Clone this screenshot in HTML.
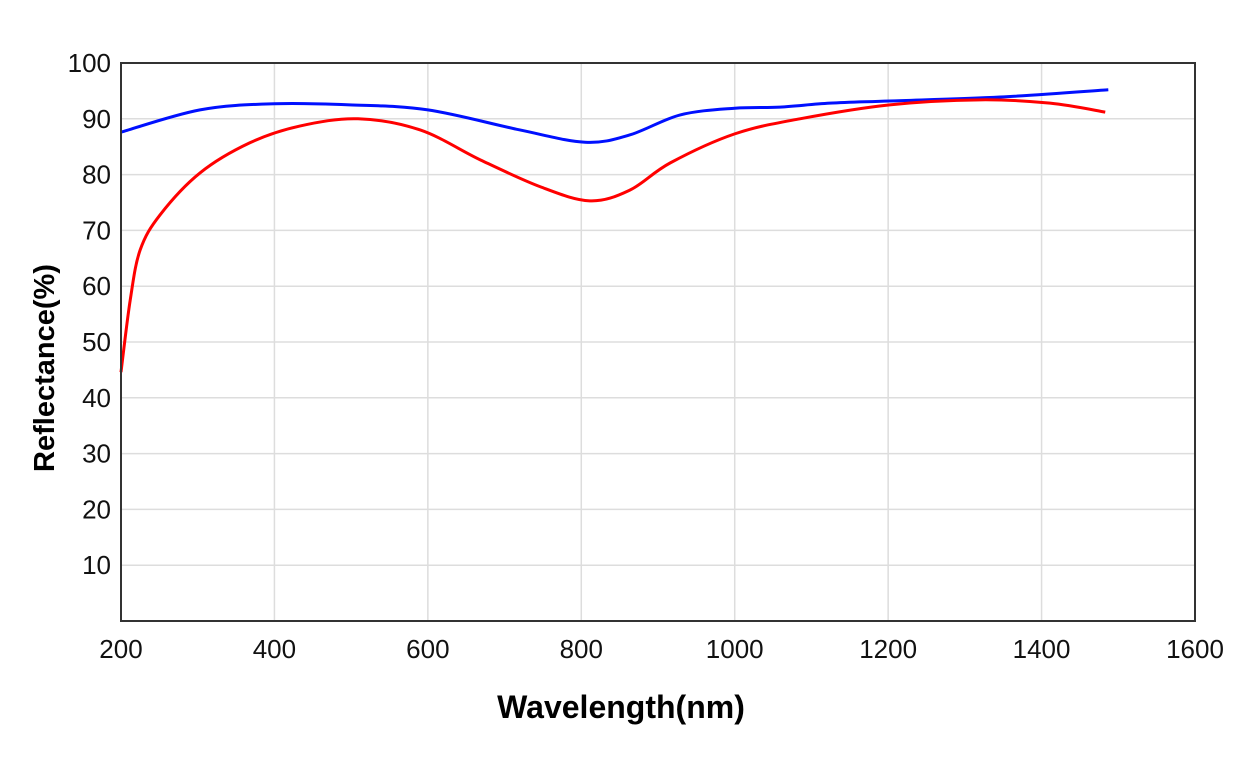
<!DOCTYPE html>
<html><head><meta charset="utf-8"><style>
body{margin:0;background:#fff;font-family:"Liberation Sans",sans-serif}
</style></head><body>
<svg id="chart" width="1253" height="756" xmlns="http://www.w3.org/2000/svg">
<g id="grid"></g>
<g id="ticks" font-family="Liberation Sans, sans-serif" font-size="26" fill="#111"></g>
<g id="series"></g>
<rect x="121" y="63" width="1074" height="558" fill="none" stroke="#333" stroke-width="2"/>
<text x="621" y="718" text-anchor="middle" font-size="32" font-weight="bold" font-family="Liberation Sans, sans-serif">Wavelength(nm)</text>
<text transform="translate(54,368) rotate(-90)" text-anchor="middle" font-size="29" font-weight="bold" font-family="Liberation Sans, sans-serif">Reflectance(%)</text>
</svg>
<script>
const xTicks=[200,400,600,800,1000,1200,1400,1600];
const yTicks=[10,20,30,40,50,60,70,80,90,100];
const blueX=[200,303,400,498,600,720,805,863,929,1000,1059,1124,1202,1346,1487];
const blueY=[87.6,91.6,92.7,92.5,91.6,88,85.8,87.1,90.7,91.9,92.1,92.8,93.2,93.9,95.2];
const redX=[200,212,225,251,303,368,433,509,590,669,747,811,863,916,1000,1085,1202,1320,1411,1483];
const redY=[44.6,57.5,66.5,72.8,80.3,85.7,88.7,90,88,82.6,77.8,75.3,77.2,82.1,87.3,90,92.5,93.4,92.8,91.2];
const NS="http://www.w3.org/2000/svg";
const L=121,R=1195,T=63,B=621;
const sx=v=>L+(v-200)/1400*(R-L);
const sy=v=>B-v/100*(B-T);
const grid=document.getElementById('grid'),ticks=document.getElementById('ticks'),series=document.getElementById('series');
xTicks.forEach(v=>{
 const l=document.createElementNS(NS,'line');
 
 
 l.setAttribute('x1',sx(v));l.setAttribute('x2',sx(v));l.setAttribute('y1',T);l.setAttribute('y2',B);
 l.setAttribute('stroke','#ddd');l.setAttribute('stroke-width','1.5');grid.appendChild(l);
 const t=document.createElementNS(NS,'text');
 
 
 t.setAttribute('x',sx(v));t.setAttribute('y',658);t.setAttribute('text-anchor','middle');t.textContent=v;ticks.appendChild(t);
});
yTicks.forEach(v=>{
 const l=document.createElementNS(NS,'line');
 
 
 l.setAttribute('x1',L);l.setAttribute('x2',R);l.setAttribute('y1',sy(v));l.setAttribute('y2',sy(v));
 l.setAttribute('stroke','#ddd');l.setAttribute('stroke-width','1.5');grid.appendChild(l);
 const t=document.createElementNS(NS,'text');
 
 
 t.setAttribute('x',111);t.setAttribute('y',sy(v)+9);t.setAttribute('text-anchor','end');t.textContent=v;ticks.appendChild(t);
});
function path(xs,ys){
 const p=xs.map((x,i)=>[sx(x),sy(ys[i])]);
 let d='M'+p[0][0]+','+p[0][1];
 for(let i=0;i<p.length-1;i++){
  const p0=p[i-1]||p[i],p1=p[i],p2=p[i+1],p3=p[i+2]||p2;
  const c1=[p1[0]+(p2[0]-p0[0])/6,p1[1]+(p2[1]-p0[1])/6];
  const c2=[p2[0]-(p3[0]-p1[0])/6,p2[1]-(p3[1]-p1[1])/6];
  d+=' C'+c1+' '+c2+' '+p2;
 }
 return d;
}
const b=document.createElementNS(NS,'path');


b.setAttribute('d',path(blueX,blueY));b.setAttribute('fill','none');b.setAttribute('stroke','#0010ff');b.setAttribute('stroke-width','3');
series.appendChild(b);
const r=document.createElementNS(NS,'path');


r.setAttribute('d',path(redX,redY));r.setAttribute('fill','none');r.setAttribute('stroke','#ff0000');r.setAttribute('stroke-width','3');
series.appendChild(r);
</script>
</body></html>
